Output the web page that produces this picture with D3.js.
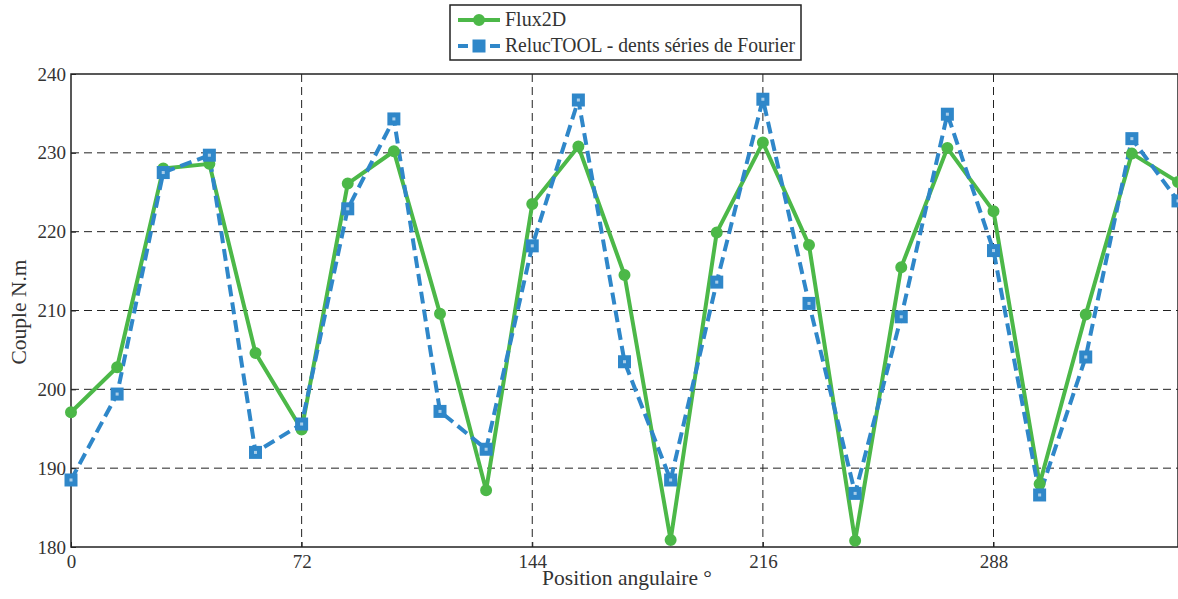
<!DOCTYPE html>
<html><head><meta charset="utf-8">
<script src="https://cdn.jsdelivr.net/npm/d3@7"></script>
<style>
html,body{margin:0;padding:0;background:#fff;}
</style></head>
<body><svg id="c" width="1178" height="599"></svg>
<script>
const angles = d3.range(25).map(i => +(i * 14.4).toFixed(1));
const flux2d = [197.1, 202.8, 228.0, 228.6, 204.6, 194.9, 226.1, 230.2, 209.6, 187.2,
                223.5, 230.8, 214.5, 180.9, 219.9, 231.3, 218.3, 180.8, 215.5, 230.6,
                222.6, 188.0, 209.5, 229.9, 226.3];
const reluctool = [188.5, 199.4, 227.5, 229.7, 192.0, 195.6, 222.9, 234.3, 197.2, 192.4,
                   218.2, 236.7, 203.5, 188.5, 213.6, 236.8, 210.9, 186.8, 209.2, 234.9,
                   217.6, 186.6, 204.1, 231.8, 223.9];
const xTicks = [0, 72, 144, 216, 288];
const yTicks = [180, 190, 200, 210, 220, 230, 240];
const seriesNames = ["Flux2D", "RelucTOOL - dents séries de Fourier"];
const colors = ["#4cb848", "#2f87c9"];
const FONT = "'Liberation Serif', 'Times New Roman', serif";

const svg = d3.select("#c");
const L = 71, R = 1178, T = 74, B = 547;
const x = d3.scaleLinear().domain([0, 345.6]).range([L, R]);
const y = d3.scaleLinear().domain([180, 240]).range([B, T]);

// grid
const g = svg.append("g");
g.selectAll("line.gx").data(xTicks.filter(d => d > 0)).join("line")
  .attr("x1", d => x(d)).attr("x2", d => x(d)).attr("y1", T).attr("y2", B)
  .attr("stroke", "#222").attr("stroke-width", 1).attr("stroke-dasharray", "8,5");
g.selectAll("line.gy").data(yTicks.filter(d => d > 180 && d < 240)).join("line")
  .attr("y1", d => y(d)).attr("y2", d => y(d)).attr("x1", L).attr("x2", R)
  .attr("stroke", "#222").attr("stroke-width", 1).attr("stroke-dasharray", "8,5");

// axes
const ax = d3.axisBottom(x).tickValues(xTicks).tickSize(-5).tickPadding(8).tickFormat(d3.format("d"));
const ay = d3.axisLeft(y).tickValues(yTicks).tickSize(-5).tickPadding(5).tickFormat(d3.format("d"));
const gx = svg.append("g").attr("transform", `translate(0,${B})`).call(ax);
const gy = svg.append("g").attr("transform", `translate(${L},0)`).call(ay);
[gx, gy].forEach(a => {
  a.attr("font-family", FONT).attr("font-size", 19);
  a.select(".domain").remove();
  a.selectAll("line").attr("stroke", "#222");
  a.selectAll("text").attr("fill", "#333");
});
svg.append("rect").attr("x", L).attr("y", T).attr("width", R - L).attr("height", B - T)
  .attr("fill", "none").attr("stroke", "#222").attr("stroke-width", 1.5);

// series
const line = d3.line().x((d, i) => x(angles[i])).y(d => y(d));
svg.append("path").datum(flux2d).attr("d", line).attr("fill", "none")
  .attr("stroke", colors[0]).attr("stroke-width", 4).attr("stroke-linejoin", "round");
svg.append("path").datum(reluctool).attr("d", line).attr("fill", "none")
  .attr("stroke", colors[1]).attr("stroke-width", 4).attr("stroke-dasharray", "12,6");

svg.append("g").selectAll("circle").data(flux2d).join("circle")
  .attr("cx", (d, i) => x(angles[i])).attr("cy", d => y(d)).attr("r", 4.5)
  .attr("fill", colors[0]).attr("stroke", colors[0]).attr("stroke-width", 3);
const sq = svg.append("g");
sq.selectAll("rect.o").data(reluctool).join("rect").attr("class", "o")
  .attr("x", (d, i) => x(angles[i]) - 4.5).attr("y", d => y(d) - 4.5)
  .attr("width", 9).attr("height", 9)
  .attr("fill", colors[1]).attr("stroke", colors[1]).attr("stroke-width", 4);
sq.selectAll("rect.i").data(reluctool).join("rect").attr("class", "i")
  .attr("x", (d, i) => x(angles[i]) - 1.5).attr("y", d => y(d) - 1.5)
  .attr("width", 3).attr("height", 3).attr("fill", "#fff").attr("opacity", 0.6);

// axis labels
svg.append("text").attr("x", 627).attr("y", 585).attr("text-anchor", "middle")
  .attr("font-family", FONT).attr("font-size", 21.5).attr("fill", "#333").text("Position angulaire °");
svg.append("text").attr("transform", "translate(26,312) rotate(-90)").attr("text-anchor", "middle")
  .attr("font-family", FONT).attr("font-size", 21.5).attr("fill", "#333").text("Couple N.m");

// legend
const lg = svg.append("g");
lg.append("rect").attr("x", 450).attr("y", 5).attr("width", 351).attr("height", 55)
  .attr("fill", "#fff").attr("stroke", "#222").attr("stroke-width", 1.5);
const ly = [20, 46];
seriesNames.forEach((n, i) => {
  lg.append("line").attr("x1", 458).attr("x2", 500).attr("y1", ly[i]).attr("y2", ly[i])
    .attr("stroke", colors[i]).attr("stroke-width", 4)
    .attr("stroke-dasharray", i ? "10,6" : null);
  if (i === 0) {
    lg.append("circle").attr("cx", 479).attr("cy", ly[i]).attr("r", 4.5)
      .attr("fill", colors[0]).attr("stroke", colors[0]).attr("stroke-width", 3);
  } else {
    lg.append("rect").attr("x", 474.5).attr("y", ly[i] - 4.5).attr("width", 9).attr("height", 9)
      .attr("fill", colors[1]).attr("stroke", colors[1]).attr("stroke-width", 4);
  }
  lg.append("text").attr("x", 505).attr("y", ly[i] + 6).attr("font-size", 20)
    .attr("font-family", FONT).attr("fill", "#333").attr("textLength", i ? 290 : null)
    .attr("lengthAdjust", "spacingAndGlyphs").text(n);
});
</script></body></html>
